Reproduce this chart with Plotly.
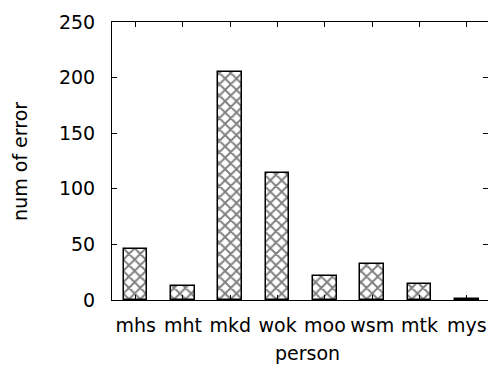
import plotly.graph_objects as go

# Error counts per person
persons = ["mhs", "mht", "mkd", "wok", "moo", "wsm", "mtk", "mys"]
errors = [46, 13, 205, 114, 22, 32, 14, 1]
y_ticks = [0, 50, 100, 150, 200, 250]

FONT = dict(family="DejaVu Sans", size=19, color="black")

fig = go.Figure()

fig.add_trace(go.Bar(
    x=persons,
    y=errors,
    width=0.5,
    marker=dict(
        color="white",
        line=dict(color="black", width=1.5),
        pattern=dict(shape="x", size=8, solidity=0.42,
                     fgcolor="black", bgcolor="white", fillmode="overlay"),
    ),
    showlegend=False,
    hoverinfo="x+y",
))

# helper trace so the right-hand tick axis is drawn
fig.add_trace(go.Scatter(
    x=[persons[0]], y=[0], yaxis="y2", mode="markers",
    marker=dict(opacity=0), showlegend=False, hoverinfo="skip",
))

fig.update_layout(
    width=488, height=365,
    margin=dict(l=112, r=0, t=22, b=65),
    paper_bgcolor="white", plot_bgcolor="white",
    font=FONT,
    bargap=0,
    xaxis=dict(
        type="category",
        range=[-0.5, 7.447],
        showline=True, linecolor="black", linewidth=1,
        mirror="ticks",
        ticks="inside", ticklen=5, tickcolor="black", tickwidth=1,
        showgrid=False, zeroline=False,
        tickfont=FONT,
        ticklabelstandoff=8,
    ),
    yaxis=dict(
        range=[0, 250],
        tickvals=y_ticks,
        showline=True, linecolor="black", linewidth=1,
        ticks="inside", ticklen=5, tickcolor="black", tickwidth=1,
        showgrid=False, zeroline=False,
        tickfont=FONT,
        ticklabelstandoff=12,
    ),
    yaxis2=dict(
        overlaying="y", side="right",
        range=[0, 250],
        tickvals=y_ticks,
        showline=False, showticklabels=False,
        ticks="inside", ticklen=5, tickcolor="black", tickwidth=1,
        showgrid=False, zeroline=False,
    ),
    annotations=[
        dict(text="num of error", xref="paper", yref="paper",
             x=-0.245, y=0.5, xanchor="center", yanchor="middle",
             textangle=-90, showarrow=False, font=FONT),
        dict(text="person", xref="paper", yref="paper",
             x=0.52, y=-0.19, xanchor="center", yanchor="middle",
             showarrow=False, font=FONT),
    ],
)

fig.write_html("out.html")
